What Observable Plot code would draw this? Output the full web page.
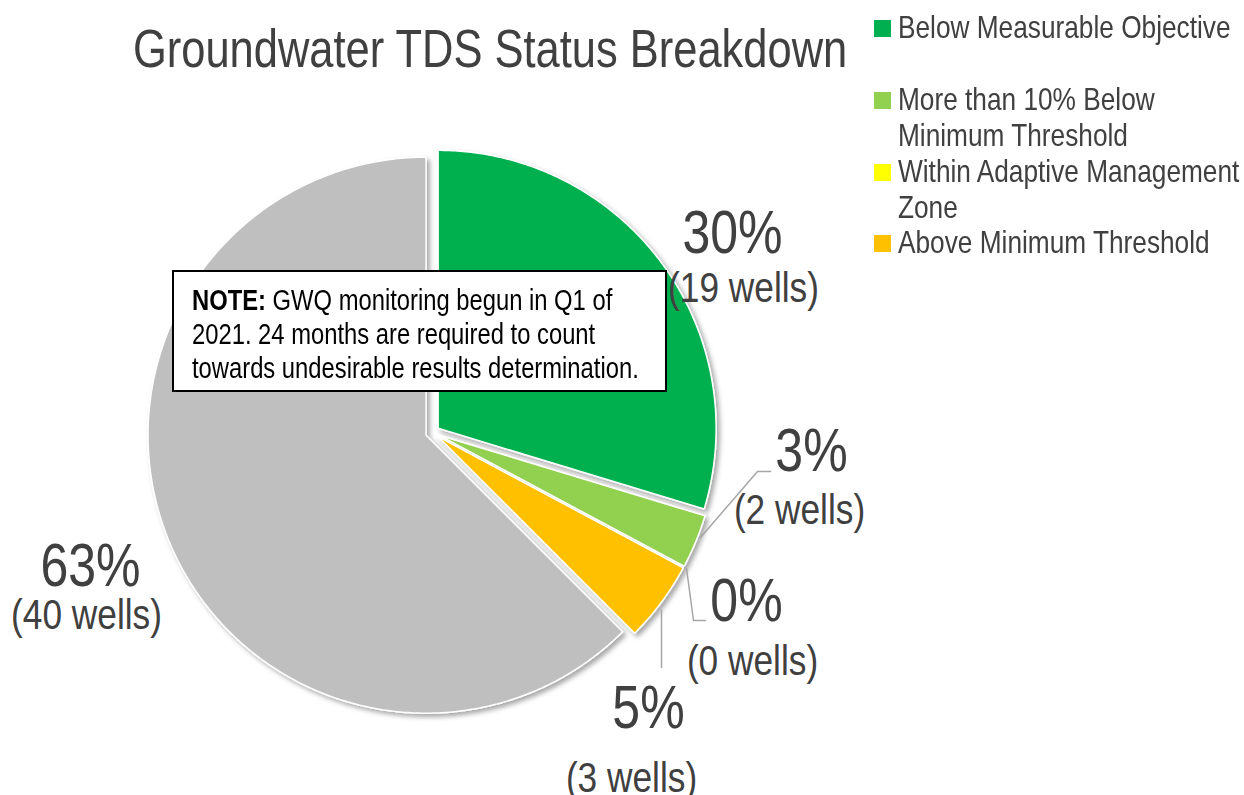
<!DOCTYPE html>
<html>
<head>
<meta charset="utf-8">
<script src="https://cdn.jsdelivr.net/npm/d3@7"></script>
<script src="https://cdn.jsdelivr.net/npm/@observablehq/plot@0.6"></script>
<style>
  body { margin: 0; background: #fff; }
  #wrap { position: relative; width: 1244px; height: 795px; overflow: hidden;
          font-family: "Liberation Sans", Arial, sans-serif; }
  #chart { position: absolute; left: 0; top: 0; }
  #title { position: absolute; left: 133px; top: 22px; font-size: 53px; line-height: 54px;
           color: #404040; white-space: nowrap; transform: scaleX(0.82); transform-origin: 0 0; }
  .leg { position: absolute; left: 874px; font-size: 32px; line-height: 36px; color: #404040; white-space: nowrap; }
  .leg .sw { position: absolute; left: 0; top: 11px; width: 17px; height: 17px; }
  .leg .tx { position: absolute; left: 24px; top: 0; transform: scaleX(0.82); transform-origin: 0 0; }
  #note { position: absolute; left: 172px; top: 270px; width: 495px; height: 122px; box-sizing: border-box;
          border: 2px solid #000; background: #fff; padding: 11px 0 0 18px; overflow: hidden; }
  #note .nt { font-size: 29px; line-height: 34px; color: #000; white-space: nowrap;
              transform: scaleX(0.82); transform-origin: 0 0; }
</style>
</head>
<body>
<div id="wrap">
  <div id="chart"></div>
  <div id="title"></div>
  <div id="legend"></div>
  <div id="note"><div class="nt"></div></div>
</div>
<script>
// ---- data ----
const categories = [
  "Below Measurable Objective",
  "More than 10% Below Minimum Threshold",
  "Within Adaptive Management Zone",
  "Above Minimum Threshold",
  "Less than 24 Months of Data"
];
const wells = [19, 2, 0, 3, 40];
const colors = ["#00B050", "#92D050", "#FFFF00", "#FFC000", "#BFBFBF"];
const legendCategories = categories.slice(0, 4);
const legendLines = [
  ["Below Measurable Objective"],
  ["More than 10% Below", "Minimum Threshold"],
  ["Within Adaptive Management", "Zone"],
  ["Above Minimum Threshold"]
];
const titleText = "Groundwater TDS Status Breakdown";
const noteBold = "NOTE:";
const noteLines = [" GWQ monitoring begun in Q1 of", "2021. 24 months are required to count", "towards undesirable results determination."];

// ---- layout (pixel positions) ----
const cx = 432, cy = 432, R = 278, explode = 7;
const textScale = 0.82;
const labelLayout = [
  {pct: [732, 252], wl: [743, 301]},
  {pct: [811, 470], wl: [799, 523]},
  {pct: [746, 620], wl: [752, 674]},
  {pct: [648, 727], wl: [631, 791]},
  {pct: [90, 585],  wl: [86, 628]}
];
const leaderLayout = [
  {i: 1, pts: [[700, 537], [757, 471], [770, 471]]},
  {i: 2, pts: [[686, 568], [693, 620], [705, 620]]},
  {i: 3, pts: [[661, 610], [661, 667]]}
];
const legendTops = [9, 81, 153, 224];

// ---- build ----
const total = d3.sum(wells);
const arcs = d3.pie().sort(null).value(d => d)(wells);
const wedgePts = [];
arcs.forEach((p, i) => {
  const span = p.endAngle - p.startAngle;
  if (span <= 0) return;
  const mid = (p.startAngle + p.endAngle) / 2;
  const ox = cx + explode * Math.sin(mid), oy = cy - explode * Math.cos(mid);
  wedgePts.push({cat: categories[i], x: ox, y: oy});
  const n = Math.max(2, Math.ceil(span / 0.01));
  for (let k = 0; k <= n; k++) {
    const a = p.startAngle + span * k / n;
    wedgePts.push({cat: categories[i], x: ox + R * Math.sin(a), y: oy - R * Math.cos(a)});
  }
});

const labelRows = wells.map((w, i) => ({
  cat: categories[i],
  pct: `${Math.round(w / total * 100)}%`,
  wl: `(${w} wells)`,
  px: labelLayout[i].pct[0], py: labelLayout[i].pct[1],
  wx: labelLayout[i].wl[0], wy: labelLayout[i].wl[1]
}));

const leaderPts = leaderLayout.flatMap(l => l.pts.map(([x, y]) => ({cat: categories[l.i], x, y})));

const chart = Plot.plot({
  width: 1244, height: 795,
  marginTop: 0, marginRight: 0, marginBottom: 0, marginLeft: 0,
  x: {domain: [0, 1244], range: [0, 1244], axis: null},
  y: {domain: [0, 795], range: [0, 795], axis: null},
  color: {domain: categories, range: colors},
  style: {background: "transparent", fontFamily: "'Liberation Sans',Arial,sans-serif"},
  marks: [
    Plot.line(wedgePts, {x: "x", y: "y", z: "cat", fill: "cat", stroke: "white", strokeWidth: 1.5, curve: "linear-closed"}),
    Plot.line(leaderPts, {x: "x", y: "y", z: "cat", stroke: "#A6A6A6", strokeWidth: 1.5}),
    Plot.text(labelRows, {x: "px", y: "py", text: "pct", fontSize: 61, lineAnchor: "bottom", textAnchor: "middle", fill: "#404040"}),
    Plot.text(labelRows, {x: "wx", y: "wy", text: "wl", fontSize: 43, lineAnchor: "bottom", textAnchor: "middle", fill: "#404040"})
  ]
});

// narrow the label glyphs horizontally (condensed face not installed)
chart.querySelectorAll("text").forEach(t => {
  const tr = t.getAttribute("transform");
  if (tr) t.setAttribute("transform", `${tr} scale(${textScale},1)`);
});

// drop shadow on the wedges
const svgNS = "http://www.w3.org/2000/svg";
const defs = document.createElementNS(svgNS, "defs");
defs.innerHTML = `<filter id="pieShadow" x="-10%" y="-10%" width="130%" height="130%">
  <feDropShadow dx="3" dy="3" stdDeviation="2.5" flood-color="#000" flood-opacity="0.35"/></filter>`;
chart.insertBefore(defs, chart.firstChild);
const lineGroups = chart.querySelectorAll('g[aria-label="line"]');
if (lineGroups.length) lineGroups[0].setAttribute("filter", "url(#pieShadow)");

document.getElementById("chart").appendChild(chart);

// title
document.getElementById("title").textContent = titleText;

// legend
const legend = document.getElementById("legend");
legendCategories.forEach((c, i) => {
  const d = document.createElement("div");
  d.className = "leg";
  d.style.top = legendTops[i] + "px";
  const sw = document.createElement("span");
  sw.className = "sw";
  sw.style.background = colors[categories.indexOf(c)];
  const tx = document.createElement("div");
  tx.className = "tx";
  tx.innerHTML = legendLines[i].join("<br>");
  d.appendChild(sw); d.appendChild(tx);
  legend.appendChild(d);
});

// note
const note = document.querySelector("#note .nt");
const b = document.createElement("b");
b.textContent = noteBold;
note.appendChild(b);
note.appendChild(document.createTextNode(noteLines[0]));
noteLines.slice(1).forEach(t => {
  note.appendChild(document.createElement("br"));
  note.appendChild(document.createTextNode(t));
});
</script>
</body>
</html>
